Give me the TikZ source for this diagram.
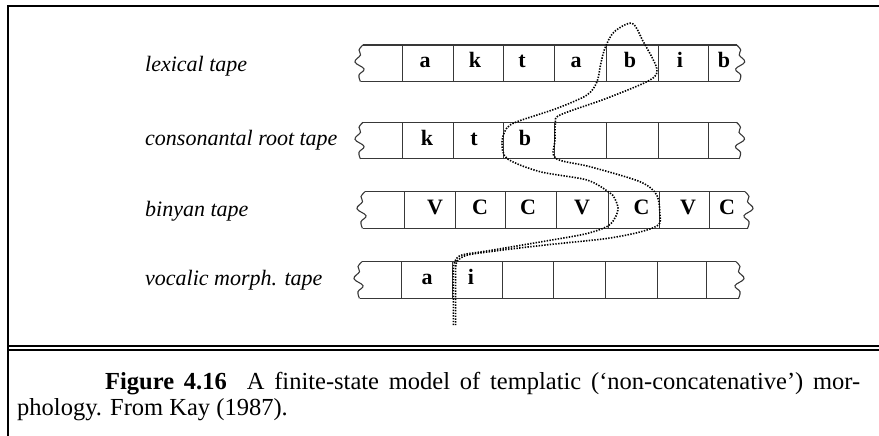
\documentclass[tikz,border=0pt]{standalone}
\usepackage{fontspec}
\setmainfont{Liberation Serif}
\newcommand\mytape[4]{%
  \draw[tapeline] (#2,#1) -- (#3,#1);
  \draw[tapeline] (#2-2.5,#1+36.6) -- (#3+2.5,#1+36.6);
  \foreach \d in {#4} \draw[cellline] (\d,#1) -- (\d,#1+36.6);
  \draw[tapeline, shift={(#2,#1)}] plot[smooth,tension=0.7] coordinates {(0,0) (-4,5) (-2.5,10) (-8,17) (1,24) (-4,30) (-2.5,36.6)};
  \draw[tapeline, shift={(#3,#1)}] plot[smooth,tension=0.7] coordinates {(0,0) (4,5) (2.5,10) (8,17) (-1,24) (4,30) (2.5,36.6)};
}
\begin{document}
\begin{tikzpicture}[x=1pt,y=-1pt,
  tapeline/.style={line width=1.1pt, draw=black!78},
  cellline/.style={line width=1pt, draw=black!78},
  pathdots/.style={line width=1.6pt, dash pattern=on 1.4pt off 1.4pt, draw=black},
  tapelabel/.style={anchor=base west, inner sep=0pt, font=\fontsize{22}{26}\selectfont\itshape},
  sym/.style={anchor=base, inner sep=0pt, font=\fontsize{22}{26}\selectfont\bfseries},
  captext/.style={anchor=base west, inner sep=0pt, font=\fontsize{24.5}{26}\selectfont}]
\useasboundingbox (0,0) rectangle (879,436);
% frame
\draw[line width=1.8pt] (8,436) -- (8,6) -- (879,6);
\draw[line width=2.3pt] (8,346.2) -- (879,346.2);
\draw[line width=1.6pt] (8,349.8) -- (879,349.8);
% tapes
\mytape{45}{363}{736.7}{402.7,453.3,503.3,554.3,606.7,658.3,708.3}
\mytape{122.3}{363}{736.5}{402.7,453.3,503.3,554.8,606.7,658.3,708.3}
\mytape{191.7}{365}{745}{404,455.7,505,556.7,608.3,659.7,709.3}
\mytape{261.7}{362}{736}{401.7,452.5,502,553.3,605.8,657.3,706.7}
% labels
\node[tapelabel] (lexlab) at (145,72) {lexical tape};
\node[tapelabel] (conlab) at (145,145) {consonantal root tape};
\node[tapelabel] (binlab) at (145,216) {binyan tape};
\node[tapelabel] (voclab) at (145,285) {vocalic morph. tape};
% lexical symbols
\node[sym] (l1) at (425,67) {a};
\node[sym] (l2) at (475,67) {k};
\node[sym] (l3) at (522,67) {t};
\node[sym] (l4) at (576,67) {a};
\node[sym] (l5) at (630,67) {b};
\node[sym] (l6) at (680,67) {i};
\node[sym] (l7) at (724,67) {b};
% consonantal symbols
\node[sym] (c1) at (427,145.3) {k};
\node[sym] (c2) at (474,145.3) {t};
\node[sym] (c3) at (525,145.3) {b};
% binyan symbols
\node[sym] (b1) at (435,214) {V};
\node[sym] (b2) at (480,214) {C};
\node[sym] (b3) at (528,214) {C};
\node[sym] (b4) at (582,214) {V};
\node[sym] (b5) at (641.5,214) {C};
\node[sym] (b6) at (688,214) {V};
\node[sym] (b7) at (727,214) {C};
% vocalic symbols
\node[sym] (v1) at (427,284) {a};
\node[sym] (v2) at (471,284) {i};
% dotted path
\draw[pathdots] plot[smooth, tension=0.5] coordinates {
 (453.3,325) (453.3,295) (453.3,270) (455,261) (462,255) (490,250.5) (540,242) (585,234) (608,226)
 (616,216) (618,208) (615,199) (610,193) (587,180) (540,171.7) (507,158.5) (502,142) (506.5,128.5)
 (517,121.7) (557,108.3) (587,95) (597,81.7) (600.5,65) (605,48) (614,32) (632,23.3) (643.3,41.7)
 (656.7,68.3) (650,80) (606.7,98.3) (560,115) (555.5,123.3) (555,140) (555.5,158.3) (590,166.7)
 (640,181.7) (656.7,195) (660,215) (658.3,225) (640,232) (606.7,238.5) (550,244.5) (507,249.5)
 (470,254.5) (460,258.5) (456,264) (455.6,280) (455.6,325)};
% caption
\node[captext] (capa) at (105,389) {\makebox[755pt][s]{\textbf{Figure 4.16}\hspace{20pt}A finite-state model of templatic (‘non-concatenative’) mor-}};
\node[captext] (capb) at (17,415) {phology. From Kay (1987).};
\end{tikzpicture}
\end{document}
